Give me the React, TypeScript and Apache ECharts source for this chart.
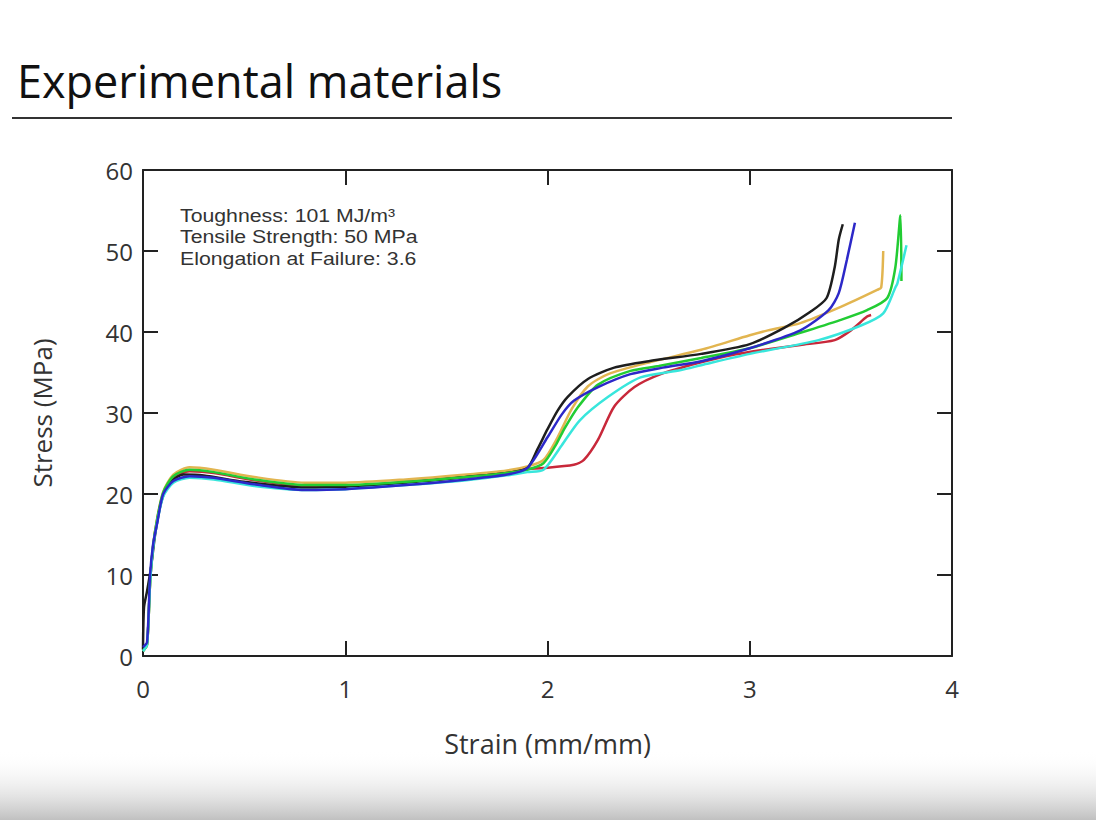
import React, { useEffect, useRef } from "react";
import * as echarts from "echarts";

const xTicks = [0, 1, 2, 3, 4];
const yTicks = [0, 10, 20, 30, 40, 50, 60];

const seriesNames = ["Sample 1", "Sample 2", "Sample 3", "Sample 4", "Sample 5", "Sample 6"];
const seriesColors = ["#c8283a", "#e2b550", "#1e1e1e", "#22cc33", "#38e6dc", "#2c28c8"];

const redCurve = [
  [0, 0.6], [0.02, 1.4], [0.035, 9], [0.05, 13.5], [0.07, 16.8], [0.1, 20], [0.15, 22], [0.23, 22.8],
  [0.35, 22.6], [0.55, 21.7], [0.8, 21.0], [1.0, 21.0], [1.3, 21.5], [1.6, 22.2], [1.8, 22.8], [1.9, 23.1],
  [1.98, 23.2], [2.13, 23.6], [2.18, 24.2], [2.25, 26.7], [2.33, 30.8], [2.43, 33.2], [2.56, 34.8],
  [2.75, 36.2], [2.92, 37.2], [3.1, 37.9], [3.25, 38.4], [3.42, 39.0], [3.5, 40.2], [3.58, 41.9], [3.6, 42.1],
];
const orangeCurve = [
  [0, 0.6], [0.02, 1.4], [0.035, 9], [0.05, 13.6], [0.07, 17], [0.1, 20.3], [0.15, 22.4], [0.23, 23.3],
  [0.35, 23.0], [0.55, 22.1], [0.8, 21.4], [1.0, 21.4], [1.3, 21.8], [1.6, 22.4], [1.8, 22.9], [1.9, 23.4],
  [1.98, 24.2], [2.05, 27], [2.12, 30.5], [2.2, 33.3], [2.3, 34.8], [2.51, 36.3], [2.76, 37.8], [3.0, 39.6],
  [3.09, 40.2], [3.25, 41.1], [3.45, 43.1], [3.63, 45.2], [3.65, 45.5], [3.66, 50.0],
];
const blackCurve = [
  [0, 0.8], [0.005, 6], [0.02, 8], [0.04, 11], [0.06, 15], [0.09, 19], [0.13, 21.3], [0.2, 22.4],
  [0.3, 22.3], [0.5, 21.5], [0.8, 20.8], [1.0, 20.9], [1.3, 21.4], [1.6, 22.1], [1.8, 22.6], [1.9, 23.2],
  [1.95, 25.5], [2.0, 28], [2.05, 30.3], [2.1, 32], [2.2, 34.2], [2.33, 35.6], [2.5, 36.4], [2.76, 37.3],
  [3.0, 38.5], [3.17, 40.5], [3.3, 42.5], [3.38, 44.2], [3.42, 48], [3.44, 51.4], [3.46, 53.3],
];
const greenCurve = [
  [0, 0.6], [0.02, 1.4], [0.035, 9], [0.05, 13.6], [0.07, 16.9], [0.1, 20.2], [0.15, 22.2], [0.23, 23.0],
  [0.35, 22.7], [0.55, 21.8], [0.8, 21.1], [1.0, 21.1], [1.3, 21.5], [1.6, 22.1], [1.8, 22.6], [1.9, 23.0],
  [1.98, 23.8], [2.04, 26], [2.08, 27.9], [2.15, 30.7], [2.25, 33.5], [2.41, 35.2], [2.55, 35.8], [2.76, 36.8],
  [3.0, 38.0], [3.25, 39.9], [3.45, 41.5], [3.58, 42.7], [3.68, 44.2], [3.72, 48], [3.745, 54.4], [3.75, 46.3],
];
const cyanCurve = [
  [0, 0.6], [0.02, 1.4], [0.035, 9], [0.05, 13.4], [0.07, 16.5], [0.1, 19.7], [0.15, 21.4], [0.23, 22.0],
  [0.35, 21.8], [0.55, 21.0], [0.8, 20.5], [1.0, 20.6], [1.3, 21.1], [1.6, 21.7], [1.8, 22.3], [1.9, 22.7],
  [1.98, 23.0], [2.07, 26], [2.16, 29.1], [2.3, 32], [2.46, 34.4], [2.66, 35.3], [2.76, 35.9], [3.0, 37.3],
  [3.34, 39.0], [3.55, 40.8], [3.66, 42.3], [3.72, 45.5], [3.73, 46.0], [3.775, 50.7],
];
const blueCurve = [
  [0, 1.1], [0.02, 1.7], [0.035, 10], [0.05, 13.8], [0.07, 16.4], [0.1, 20], [0.15, 21.6], [0.23, 22.2],
  [0.35, 22.0], [0.55, 21.2], [0.8, 20.5], [1.0, 20.6], [1.3, 21.1], [1.6, 21.8], [1.8, 22.4], [1.9, 23.2],
  [2.0, 27], [2.07, 29.8], [2.13, 31.5], [2.25, 33.2], [2.41, 34.8], [2.57, 35.6], [2.76, 36.4], [3.0, 38.0],
  [3.25, 40.2], [3.39, 42.7], [3.44, 44.8], [3.48, 48.9], [3.52, 53.5],
];
const curves = [redCurve, orangeCurve, blackCurve, greenCurve, cyanCurve, blueCurve];

const titleText = "Experimental materials";
const xName = "Strain (mm/mm)";
const yName = "Stress (MPa)";
const noteLines = ["Toughness: 101 MJ/m³", "Tensile Strength: 50 MPa", "Elongation at Failure: 3.6"];

export default function App() {
  const ref = useRef<HTMLDivElement>(null);
  useEffect(() => {
    if (!ref.current) return;
    const chart = echarts.init(ref.current, null, { renderer: "svg" });
    const axisLine = { show: true, onZero: false, lineStyle: { color: "#222", width: 2 } };
    const tickStyle = { show: true, inside: true, length: 15, lineStyle: { color: "#222", width: 2 } };
    const labelFont = { fontFamily: "Open Sans", fontSize: 24, color: "#333" };
    const option: any = {
      animation: false,
      backgroundColor: "#ffffff",
      grid: { left: 143, right: 144, top: 170, bottom: 164, containLabel: false },
      xAxis: [
        {
          type: "value", position: "bottom", min: xTicks[0], max: xTicks[xTicks.length - 1], interval: 1,
          axisLine, axisTick: tickStyle, splitLine: { show: false },
          axisLabel: { ...labelFont, margin: 20 },
          name: xName, nameLocation: "middle", nameGap: 74,
          nameTextStyle: { fontFamily: "Open Sans", fontSize: 27, color: "#333" },
        },
        {
          type: "value", position: "top", min: xTicks[0], max: xTicks[xTicks.length - 1], interval: 1,
          axisLine, axisTick: tickStyle, splitLine: { show: false }, axisLabel: { show: false },
        },
      ],
      yAxis: [
        {
          type: "value", position: "left", min: yTicks[0], max: yTicks[yTicks.length - 1], interval: 10,
          axisLine, axisTick: tickStyle, splitLine: { show: false },
          axisLabel: { ...labelFont, margin: 10 },
          name: yName, nameLocation: "middle", nameGap: 88, nameRotate: 90,
          nameTextStyle: { fontFamily: "Open Sans", fontSize: 26, color: "#333" },
        },
        {
          type: "value", position: "right", min: yTicks[0], max: yTicks[yTicks.length - 1], interval: 10,
          axisLine, axisTick: tickStyle, splitLine: { show: false }, axisLabel: { show: false },
        },
      ],
      series: curves.map((d, i) => ({
        name: seriesNames[i],
        type: "line",
        data: d,
        showSymbol: false,
        smooth: 0.25,
        lineStyle: { color: seriesColors[i], width: 2.5 },
        itemStyle: { color: seriesColors[i] },
        z: 2 + i,
      })),
      graphic: [
        {
          type: "rect", left: 0, top: 750, shape: { width: 1096, height: 70 }, silent: true, z: -10,
          style: {
            fill: new echarts.graphic.LinearGradient(0, 0, 0, 1, [
              { offset: 0, color: "rgba(255,255,255,0)" },
              { offset: 1, color: "#c0c0c0" },
            ]),
          },
        },
        {
          type: "text", x: 17, y: 80,
          style: { text: titleText, font: "45px 'Open Sans'", fill: "#111", textVerticalAlign: "middle" },
        },
        {
          type: "line", shape: { x1: 12, y1: 118, x2: 952, y2: 118 },
          style: { stroke: "#333", lineWidth: 2 },
        },
        ...noteLines.map((t, i) => ({
          type: "text", x: 180, y: 215.5 + i * 21.5, scaleX: 1.15, z: 50,
          style: { text: t, font: "18.5px 'Liberation Sans'", fill: "#333", textVerticalAlign: "middle" },
        })),
      ],
    };
    chart.setOption(option);
    return () => chart.dispose();
  }, []);
  return (
    <div
      ref={ref}
      style={{ position: "absolute", left: 0, top: 0, width: 1096, height: 820 }}
    />
  );
}
